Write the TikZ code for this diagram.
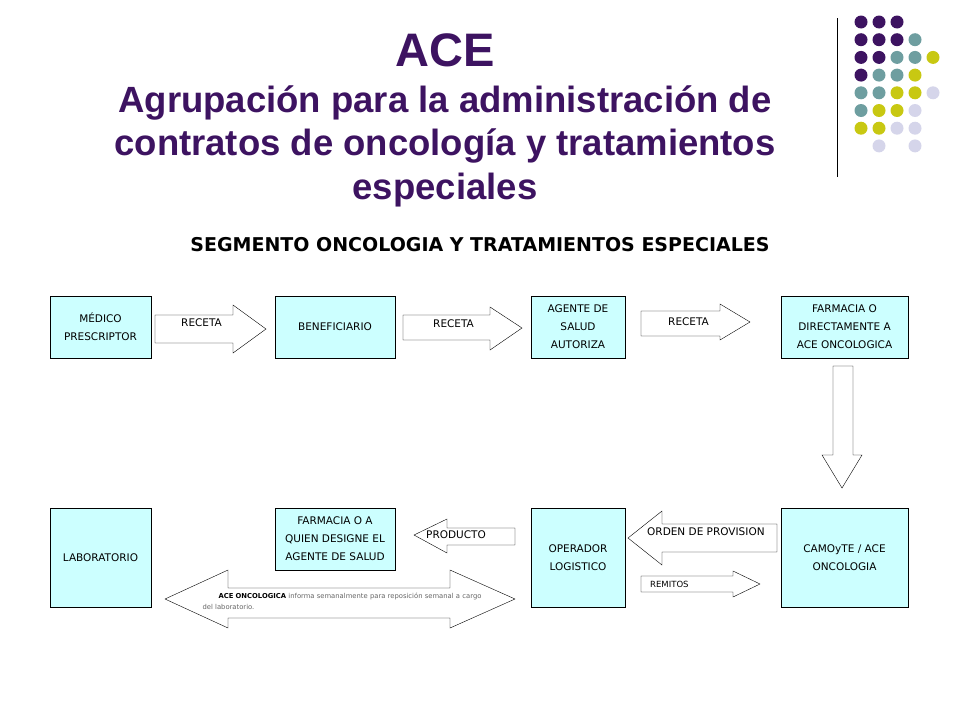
\documentclass[tikz,border=0pt]{standalone}
\usepackage{fontspec}
\setmainfont{Liberation Sans}
\newfontfamily\boxfont{DejaVu Sans}
\usetikzlibrary{calc}
\definecolor{ttl}{HTML}{3D1361}
\definecolor{dotP}{HTML}{3D1361}
\definecolor{dotT}{HTML}{6E9EA0}
\definecolor{dotY}{HTML}{C8C812}
\definecolor{dotL}{HTML}{D5D5EA}
\definecolor{dotN}{HTML}{FFFFFF}
\definecolor{boxfill}{HTML}{CCFFFF}
\tikzset{
  caja/.style={draw, fill=boxfill, align=center, font=\boxfont\fontsize{10.5}{18}\selectfont},
  flecha/.style={draw, fill=white},
  rot/.style={font=\boxfont\fontsize{10.5}{12}\selectfont, anchor=west, inner sep=1pt},
  punto/.style={circle, fill=#1, minimum size=13pt, inner sep=0pt}
}
\begin{document}
\begin{tikzpicture}[x=1pt,y=-1pt]
\useasboundingbox (0,0) rectangle (960,720);
% titulo
\node[text=ttl, font=\bfseries\fontsize{47}{50}\selectfont] (ace) at (445,50) {ACE};
\node[text=ttl, font=\bfseries\fontsize{36.5}{43.5}\selectfont, align=center] (sub) at (445,146)
  {Agrupación para la administración de\\contratos de oncología y tratamientos\\especiales};
% puntos
\draw (837,18) -- (837,177);
\foreach \fila [count=\r from 0] in {{P,P,P},{P,P,P,T},{P,P,T,T,Y},{P,T,T,Y},{T,T,Y,Y,L},{T,Y,Y,L},{Y,Y,L,L},{N,L,N,L}}
  \foreach \c [count=\k from 0] in \fila
    \node[punto=dot\c] at (861+18*\k,22+17.7*\r) {};
\node[font=\boxfont\bfseries\fontsize{19}{21}\selectfont] (seg) at (480,245) {SEGMENTO ONCOLOGIA Y TRATAMIENTOS ESPECIALES};
% cajas
\node[caja, minimum width=101pt, minimum height=62pt] (med) at (100.5,327) {MÉDICO\\PRESCRIPTOR};
\node[caja, minimum width=120pt, minimum height=62pt] (ben) at (335,327) {BENEFICIARIO};
\node[caja, minimum width=94pt, minimum height=62pt] (age) at (578,327) {AGENTE DE\\SALUD\\AUTORIZA};
\node[caja, minimum width=127pt, minimum height=62pt] (far) at (844.5,327) {FARMACIA O\\DIRECTAMENTE A\\ACE ONCOLOGICA};
\node[caja, minimum width=101pt, minimum height=99pt] (lab) at (100.5,557.5) {LABORATORIO};
\node[caja, minimum width=120pt, minimum height=62pt] (fag) at (335,539) {FARMACIA O A\\QUIEN DESIGNE EL\\AGENTE DE SALUD};
\node[caja, minimum width=94pt, minimum height=99pt] (ope) at (578,557.5) {OPERADOR\\LOGISTICO};
\node[caja, minimum width=127pt, minimum height=99pt] (cam) at (844.5,557.5) {CAMOyTE / ACE\\ONCOLOGIA};
% flechas
\draw[flecha] (155,315) -- (233,315) -- (233,305) -- (266,329) -- (233,353) -- (233,343) -- (155,343) -- cycle;
\node[rot] (r1) at (180,323) {RECETA};
\draw[flecha] (403,315) -- (490,315) -- (490,307) -- (522,328) -- (490,350) -- (490,340) -- (403,340) -- cycle;
\node[rot] (r2) at (432,324) {RECETA};
\draw[flecha] (641,311) -- (720,311) -- (720,304) -- (750,322) -- (720,340) -- (720,336) -- (641,336) -- cycle;
\node[rot] (r3) at (667,322) {RECETA};
\draw[flecha] (833,366) -- (853,366) -- (853,455) -- (862,455) -- (842,488) -- (822,455) -- (833,455) -- cycle;
\draw[flecha] (515,528) -- (447,528) -- (447,519) -- (414,535) -- (447,553) -- (447,545) -- (515,545) -- cycle;
\node[rot] (pro) at (425,535) {PRODUCTO};
\draw[flecha] (777,524) -- (662,524) -- (662,511) -- (628,538) -- (662,565) -- (662,552) -- (777,552) -- cycle;
\node[rot] (ord) at (646,532) {ORDEN DE PROVISION};
\draw[flecha] (641,576) -- (733,576) -- (733,571) -- (760,584) -- (733,597) -- (733,592) -- (641,592) -- cycle;
\node[rot, font=\boxfont\fontsize{8.5}{9}\selectfont] (rem) at (649,584) {REMITOS};
\draw[flecha] (228,588) -- (450,588) -- (450,570) -- (515,599) -- (450,628) -- (450,618) -- (228,618) -- (228,628) -- (165,599) -- (228,570) -- cycle;
\node[font=\boxfont\fontsize{6.8}{11}\selectfont, align=left, text width=285pt, text=gray!80!black] (inf) at (345,601)
  {\hspace*{16pt}{\color{black}\bfseries ACE ONCOLOGICA} informa semanalmente para reposición semanal a cargo\\del laboratorio.};
\end{tikzpicture}
\end{document}
